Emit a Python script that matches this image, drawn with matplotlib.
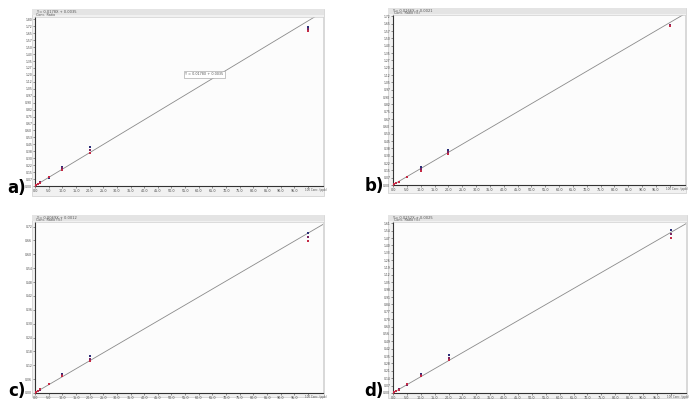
import matplotlib
matplotlib.use("Agg")
import matplotlib.pyplot as plt
from matplotlib.patches import Rectangle
import numpy as np

W, H = 689, 407

# Concentrations (x) and replicate responses (y) per panel
conc = [0, 0.5, 1, 2, 5, 10, 20, 100]

resp_a = [[0.003, 0.004, 0.005], [0.012, 0.013, 0.011], [0.021, 0.020, 0.022],
          [0.039, 0.040, 0.037], [0.090, 0.092, 0.095], [0.208, 0.190, 0.172],
          [0.422, 0.393, 0.358], [1.716, 1.698, 1.676]]
resp_b = [[0.002, 0.003, 0.002], [0.010, 0.011, 0.010], [0.018, 0.019, 0.018],
          [0.034, 0.032, 0.035], [0.080, 0.083, 0.085], [0.181, 0.165, 0.146],
          [0.358, 0.339, 0.313], [1.630, 1.636, 1.625]]
resp_c = [[0.001, 0.0012, 0.0015], [0.0045, 0.0048, 0.0042], [0.008, 0.0085, 0.0078],
          [0.016, 0.015, 0.0155], [0.041, 0.039, 0.037], [0.081, 0.076, 0.072],
          [0.158, 0.148, 0.138], [0.694, 0.674, 0.656]]
resp_d = [[0.0025, 0.003, 0.002], [0.010, 0.011, 0.009], [0.018, 0.017, 0.019],
          [0.033, 0.034, 0.032], [0.080, 0.078, 0.081], [0.182, 0.170, 0.159],
          [0.357, 0.333, 0.313], [1.543, 1.510, 1.470]]

slopes = [0.0178, 0.0166, 0.0069, 0.0152]
intercepts = [0.0035, 0.0021, 0.0012, 0.0025]
ymaxes = [1.826, 1.74, 0.7395, 1.622]
ysteps = [0.075, 0.075, 0.06, 0.07]
equations = ["Y = 0.0178X + 0.0035", "Y = 0.0166X + 0.0021",
             "Y = 0.0069X + 0.0012", "Y = 0.0152X + 0.0025"]
ylabels = ["Conc. Ratio", "Conc. Ratio (%)", "Conc. Ratio (%)", "Conc. Ratio (%)"]
panel_labels = ["a)", "b)", "c)", "d)"]
xticks = list(range(0, 101, 5))
xlast_label = "100 Conc. (ppb)"
xmax = 105.5

# pixel layouts: plot area (x0, y0, x1, y1), frame box, label pos
plot_boxes = [(35, 17, 323, 186), (393, 15, 685, 185),
              (35, 222, 323, 393), (393, 222, 686, 393)]
frame_boxes = [(32, 9, 324, 196), (388, 8, 686, 193),
               (32, 215, 324, 397), (388, 215, 687, 398)]
label_pos = [(7, 193), (365, 191), (8, 396), (364, 396)]

rep_colors = ["#2a2f78", "#7a2560", "#c42a45"]

fig = plt.figure(figsize=(W / 100, H / 100), dpi=100)
fig.patch.set_facecolor("white")


def fx(px):
    return px / W


def fy(py):
    return 1 - py / H


for i in range(4):
    fx0, fy0, fx1, fy1 = frame_boxes[i]
    fig.patches.append(Rectangle((fx(fx0), fy(fy1)), fx(fx1 - fx0), (fy1 - fy0) / H,
                                 transform=fig.transFigure, facecolor="#f1f1f1",
                                 edgecolor="#d4d4d4", lw=0.6, zorder=-2))
    fig.patches.append(Rectangle((fx(fx0), fy(fy0 + 6)), fx(fx1 - fx0), 6 / H,
                                 transform=fig.transFigure, facecolor="#e4e4e4",
                                 edgecolor="none", zorder=-1))
    x0, y0, x1, y1 = plot_boxes[i]
    ax = fig.add_axes([fx(x0), fy(y1), fx(x1 - x0), (y1 - y0) / H])
    ax.set_zorder(2)
    ax.set_facecolor("#fcfcfc")
    ax.set_xlim(0, xmax)
    ax.set_ylim(0, ymaxes[i])
    xs = np.array([0, xmax])
    ax.plot(xs, slopes[i] * xs + intercepts[i], color="#8a8a8a", lw=0.6, zorder=2)
    resp = [resp_a, resp_b, resp_c, resp_d][i]
    for r in range(3):
        ax.scatter(conc, [v[r] for v in resp], s=3, marker="s",
                   color=rep_colors[r], zorder=3, linewidths=0)
    ax.set_xticks(xticks)
    ax.set_xticklabels([f"{t:.1f}" if t < 100 else "" for t in xticks],
                       fontsize=2.4, color="#555555")
    yt = np.arange(0, ymaxes[i] - 1e-9, ysteps[i])
    ax.set_yticks(yt)
    ax.set_yticklabels([f"{v:.2f}" for v in yt], fontsize=2.2, color="#555555")
    ax.tick_params(length=1.2, width=0.4, pad=0.8, colors="#444444")
    for s in ("left", "bottom"):
        ax.spines[s].set_color("#333333")
        ax.spines[s].set_linewidth(0.8)
    for s in ("top", "right"):
        ax.spines[s].set_color("#cfcfcf")
        ax.spines[s].set_linewidth(0.5)
    ax.text(98.8, -0.012 * ymaxes[i], xlast_label, fontsize=2.0,
            color="#555555", ha="left", va="top", clip_on=False)
    fig.text(fx(fx0 + 4), fy(fy0 + 3), equations[i], fontsize=2.6,
             color="#555555", va="center")
    fig.text(fx(x0 + 1), fy(y0 - 1.5), ylabels[i], fontsize=2.4,
             color="#555555", va="center")
    lx, ly = label_pos[i]
    fig.text(fx(lx), fy(ly), panel_labels[i], fontsize=12, fontweight="bold",
             color="black", va="baseline")
    if i == 0:
        ax.text(62, 0.66 * ymaxes[i], equations[i], fontsize=2.4, color="#555555",
                ha="center", va="center",
                bbox=dict(boxstyle="square,pad=0.4", fc="white", ec="#999999", lw=0.4))

fig.savefig("out.png", dpi=100, facecolor="white")
